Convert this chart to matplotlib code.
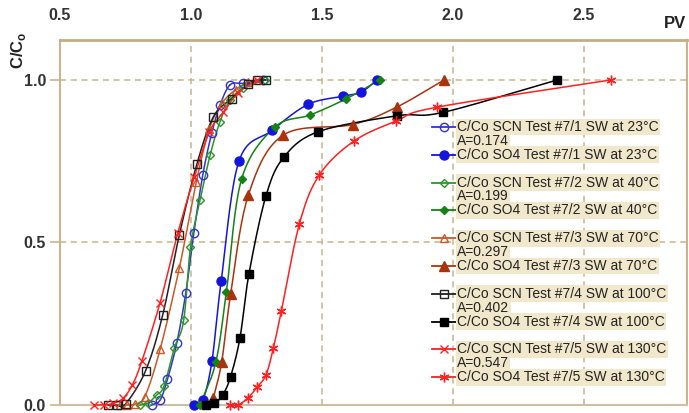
import numpy as np
import matplotlib
matplotlib.use("Agg")
import matplotlib.pyplot as plt
from matplotlib.lines import Line2D

plt.rcParams['font.family'] = ['Liberation Sans', 'DejaVu Sans']

# breakthrough data, C/Co against pore volumes (PV)
scn1_pv = [0.85, 0.882, 0.91, 0.946, 0.98, 1.011, 1.045, 1.079, 1.111, 1.149, 1.2, 1.276]
scn1_c = [0.0, 0.015, 0.079, 0.192, 0.344, 0.53, 0.708, 0.836, 0.923, 0.985, 0.99, 1.0]
so41_pv = [1.01, 1.045, 1.08, 1.115, 1.183, 1.31, 1.447, 1.58, 1.648, 1.71]
so41_c = [0.0, 0.015, 0.135, 0.38, 0.75, 0.845, 0.925, 0.95, 0.962, 1.0]

scn2_pv = [0.805, 0.837, 0.869, 0.897, 0.936, 0.972, 0.998, 1.035, 1.073, 1.11, 1.149, 1.2, 1.282]
scn2_c = [0.0, 0.007, 0.031, 0.058, 0.174, 0.26, 0.485, 0.632, 0.769, 0.87, 0.938, 0.975, 1.0]
so42_pv = [1.035, 1.095, 1.135, 1.193, 1.32, 1.454, 1.592, 1.72]
so42_c = [0.0, 0.133, 0.347, 0.695, 0.855, 0.892, 0.942, 1.0]

scn3_pv = [0.73, 0.754, 0.786, 0.824, 0.882, 0.955, 1.02, 1.07, 1.12, 1.17, 1.219]
scn3_c = [0.0, 0.0, 0.003, 0.026, 0.171, 0.42, 0.685, 0.85, 0.93, 0.97, 0.995]
so43_pv = [1.085, 1.117, 1.151, 1.219, 1.351, 1.617, 1.786, 1.966]
so43_c = [0.02, 0.132, 0.34, 0.646, 0.83, 0.863, 0.917, 1.0]

scn4_pv = [0.684, 0.716, 0.75, 0.827, 0.892, 0.955, 1.022, 1.085, 1.155, 1.219, 1.251, 1.286]
scn4_c = [0.0, 0.0, 0.003, 0.106, 0.277, 0.522, 0.74, 0.886, 0.943, 0.988, 1.0, 1.0]
so44_pv = [1.057, 1.089, 1.121, 1.151, 1.187, 1.221, 1.286, 1.354, 1.486, 1.787, 1.96, 2.398]
so44_c = [0.0, 0.005, 0.031, 0.087, 0.207, 0.403, 0.643, 0.762, 0.841, 0.89, 0.9, 1.0]

scn5_pv = [0.63, 0.668, 0.703, 0.74, 0.775, 0.812, 0.882, 0.95, 1.012, 1.07, 1.123, 1.18, 1.25]
scn5_c = [0.0, 0.0, 0.005, 0.02, 0.06, 0.134, 0.315, 0.53, 0.7, 0.84, 0.9, 0.96, 1.0]
so45_pv = [1.15, 1.18, 1.219, 1.251, 1.286, 1.314, 1.345, 1.414, 1.49, 1.622, 1.784, 1.937, 2.602]
so45_c = [0.0, 0.0, 0.023, 0.054, 0.092, 0.174, 0.29, 0.558, 0.708, 0.812, 0.874, 0.916, 1.0]

tests = ["#7/1", "#7/2", "#7/3", "#7/4", "#7/5"]
temps = ["23°C", "40°C", "70°C", "100°C", "130°C"]
a_values = ["0.174", "0.199", "0.297", "0.402", "0.547"]

scn_data = [(scn1_pv, scn1_c), (scn2_pv, scn2_c), (scn3_pv, scn3_c), (scn4_pv, scn4_c), (scn5_pv, scn5_c)]
so4_data = [(so41_pv, so41_c), (so42_pv, so42_c), (so43_pv, so43_c), (so44_pv, so44_c), (so45_pv, so45_c)]

scn_style = [
    dict(color="#3434cc", marker="o", mfc="none", ms=6),
    dict(color="#2a962a", marker="D", mfc="none", ms=4),
    dict(color="#c85a28", marker="^", mfc="none", ms=6),
    dict(color="#202020", marker="s", mfc="none", ms=6),
    dict(color="#ff2020", marker="x", mfc="none", ms=6),
]
so4_style = [
    dict(color="#1414dc", marker="o", ms=6.5),
    dict(color="#148214", marker="D", ms=4.5),
    dict(color="#a8340e", marker="^", ms=6.5),
    dict(color="#000000", marker="s", ms=6),
    dict(color="#ff2020", marker=(6, 2, 0), ms=7),
]


def smooth(x, y, n=20):
    # Catmull-Rom curve through the points (like a spreadsheet "smoothed line")
    x = np.asarray(x, float)
    y = np.asarray(y, float)
    px = np.concatenate([[2 * x[0] - x[1]], x, [2 * x[-1] - x[-2]]])
    py = np.concatenate([[2 * y[0] - y[1]], y, [2 * y[-1] - y[-2]]])
    t = np.linspace(0, 1, n)[:, None]
    xs, ys = [], []
    for i in range(1, len(px) - 2):
        for p, out in ((px, xs), (py, ys)):
            p0, p1, p2, p3 = p[i - 1], p[i], p[i + 1], p[i + 2]
            seg = 0.5 * ((2 * p1) + (-p0 + p2) * t + (2 * p0 - 5 * p1 + 4 * p2 - p3) * t ** 2
                         + (-p0 + 3 * p1 - 3 * p2 + p3) * t ** 3)
            out.append(seg.ravel())
    return np.concatenate(xs), np.concatenate(ys)


W, H = 689, 413
fig = plt.figure(figsize=(W / 100, H / 100), dpi=100)
ax = fig.add_axes([60 / W, (H - 405) / H, 627 / W, 365 / H])

tan = "#c9b48e"
for i in range(5):
    for (xv, yv), st in ((scn_data[i], scn_style[i]), (so4_data[i], so4_style[i])):
        sx, sy = smooth(xv, yv)
        ax.plot(sx, sy, color=st["color"], lw=1.1, zorder=3, clip_on=False)
        ax.plot(xv, yv, ls="none", marker=st["marker"], ms=st["ms"], color=st["color"],
                mfc=st.get("mfc", st["color"]), mew=1.0, zorder=4, clip_on=False)

ax.set_xlim(0.5, 2.893)
ax.set_ylim(0.0, 1.123)
ax.xaxis.tick_top()
ax.set_xticks([0.5, 1.0, 1.5, 2.0, 2.5])
ax.set_xticklabels(["0.5", "1.0", "1.5", "2.0", "2.5"])
ax.set_yticks([0.0, 0.5, 1.0])
ax.set_yticklabels(["0.0", "0.5", "1.0"])
ax.tick_params(axis="x", length=0, pad=12, labelsize=11.5, labelcolor="#333333")
ax.tick_params(axis="y", length=7, width=1.2, color=tan, pad=3, labelsize=11.5, labelcolor="#333333")
for lab in ax.get_xticklabels() + ax.get_yticklabels():
    lab.set_fontweight("bold")

for xg in [1.0, 1.5, 2.0, 2.5]:
    ax.axvline(xg, color=tan, lw=1.1, ls=(0, (4, 3)), zorder=1)
for yg in [0.5, 1.0]:
    ax.axhline(yg, color=tan, lw=1.1, ls=(0, (4, 3)), zorder=1)

ax.spines["top"].set_color("#c4ad84")
ax.spines["top"].set_linewidth(2.0)
ax.spines["left"].set_color(tan)
ax.spines["left"].set_linewidth(1.5)
ax.spines["bottom"].set_color("#cdbfa5")
ax.spines["bottom"].set_linewidth(1.5)
ax.spines["right"].set_color(tan)
ax.spines["right"].set_linewidth(1.5)

fig.text(19 / W, 1 - 50 / H, r"C/C$_\mathregular{o}$", rotation=90, ha="center", va="center",
         fontsize=12, fontweight="bold", color="#222222")
fig.text(675 / W, 1 - 23 / H, "PV", ha="center", va="center", fontsize=12,
         fontweight="bold", color="#222222")

# legend rows drawn by hand: SCN entry, A value, SO4 entry, blank
row_h = 13.9
y0 = 127
beige = "#f1e7cb"
row = 0
for i in range(5):
    entries = [
        (scn_style[i], "C/Co SCN Test %s SW at %s" % (tests[i], temps[i])),
        (None, "A=" + a_values[i]),
        (so4_style[i], "C/Co SO4 Test %s SW at %s" % (tests[i], temps[i])),
    ]
    for st, label in entries:
        ypx = y0 + row * row_h
        yf = 1 - ypx / H
        if st is not None:
            fig.add_artist(Line2D([432 / W, 456 / W], [yf, yf], color=st["color"], lw=1.3,
                                  transform=fig.transFigure))
            fig.add_artist(Line2D([444 / W], [yf], color=st["color"], marker=st["marker"],
                                  ms=st["ms"], mfc=st.get("mfc", st["color"]), mew=1.0,
                                  transform=fig.transFigure))
        fig.text(457 / W, yf, label, ha="left", va="center", fontsize=10, color="#222222",
                 bbox=dict(facecolor=beige, edgecolor="none", pad=1.0))
        row += 1
    row += 1

fig.savefig("out.png", dpi=100)
